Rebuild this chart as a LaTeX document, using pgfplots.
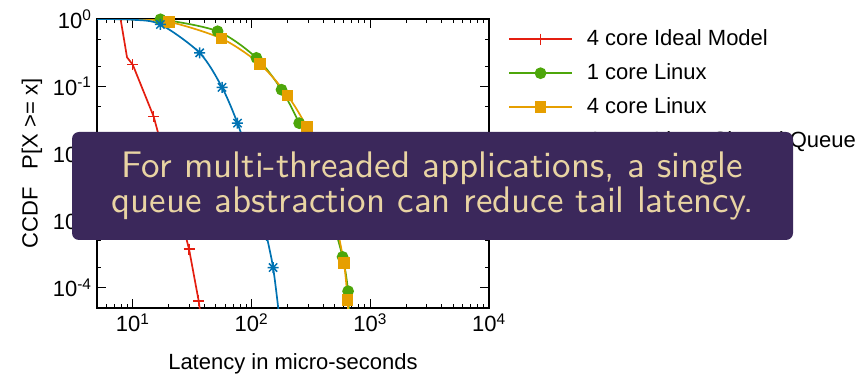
\documentclass[border=0pt]{standalone}
\usepackage{pgfplots}
\pgfplotsset{compat=1.18}
\usepackage{fontspec}
\newfontfamily\arialfont{Liberation Sans}
\newfontfamily\boxfont{lmsans10-regular}[Extension=.otf]

\definecolor{cred}{HTML}{E41E10}
\definecolor{cgreen}{HTML}{4DA60A}
\definecolor{corange}{HTML}{E69F00}
\definecolor{cblue}{HTML}{0072B2}
\definecolor{boxbg}{RGB}{59,40,91}
\definecolor{boxfg}{RGB}{233,212,163}

% eight-armed star: a plus overlaid with a cross
\pgfdeclareplotmark{pstar}{%
  \pgfpathmoveto{\pgfqpoint{-\pgfplotmarksize}{0pt}}%
  \pgfpathlineto{\pgfqpoint{\pgfplotmarksize}{0pt}}%
  \pgfpathmoveto{\pgfqpoint{0pt}{-\pgfplotmarksize}}%
  \pgfpathlineto{\pgfqpoint{0pt}{\pgfplotmarksize}}%
  \pgfpathmoveto{\pgfqpoint{-.75\pgfplotmarksize}{-.75\pgfplotmarksize}}%
  \pgfpathlineto{\pgfqpoint{.75\pgfplotmarksize}{.75\pgfplotmarksize}}%
  \pgfpathmoveto{\pgfqpoint{-.75\pgfplotmarksize}{.75\pgfplotmarksize}}%
  \pgfpathlineto{\pgfqpoint{.75\pgfplotmarksize}{-.75\pgfplotmarksize}}%
  \pgfusepathqstroke}

\newcommand\plotfont{\arialfont\fontsize{22bp}{26bp}\selectfont}

\begin{document}
\begin{tikzpicture}
\path[use as bounding box] (0,0) rectangle (862bp,375bp);
\begin{axis}[
  at={(97bp,67bp)}, anchor=south west,
  scale only axis, width=392bp, height=289bp,
  xmode=log, ymode=log,
  xmin=5, xmax=10000, ymin=5e-5, ymax=1,
  xtick={10,100,1000,10000},
  xticklabels={10\textsuperscript{1},10\textsuperscript{2},10\textsuperscript{3},10\textsuperscript{4}},
  ytick={1e-4,1e-3,1e-2,1e-1,1},
  yticklabels={10\textsuperscript{-4},10\textsuperscript{-3},10\textsuperscript{-2},10\textsuperscript{-1},10\textsuperscript{0}},
  minor xtick={6,7,8,9,20,30,40,50,60,70,80,90,200,300,400,500,600,700,800,900,2000,3000,4000,5000,6000,7000,8000,9000},
  minor ytick={2e-4,5e-4,2e-3,5e-3,2e-2,5e-2,0.2,0.5},
  tick align=inside,
  major tick length=9bp, minor tick length=4.5bp,
  every tick/.style={black, line width=0.9bp},
  axis line style={black, line width=1.4bp},
  tick label style={font=\plotfont},
  yticklabel style={xshift=-2bp},
  xticklabel style={yshift=-2bp},
  xlabel={Latency in micro-seconds},
  ylabel={CCDF \ \ P[X >= x]},
  every axis x label/.style={at={(axis description cs:0.5,0)}, anchor=base, yshift=-61bp, font=\plotfont},
  every axis y label/.style={at={(axis description cs:-0.1658,0.5)}, rotate=90, anchor=center, font=\plotfont},
  legend style={draw=none, fill=none, font=\plotfont, at={(1,1)}, anchor=north west,
    xshift=19bp, yshift=-8bp, row sep=10bp, inner sep=0pt,
    nodes={inner sep=2bp, text height=16bp, text depth=4bp},
    /tikz/every odd column/.append style={column sep=12bp}},
  legend cell align=left,
  legend image code/.code={\draw[#1, sharp plot, mark indices={2}] plot coordinates {(0bp,0bp) (31.5bp,0bp) (63bp,0bp)};},
  every axis plot/.append style={line width=1.7bp, mark options={solid, line width=1.5bp}},
]
% 4 core ideal model
\addplot[cred, mark=+, mark size=5.5bp, mark indices={3,4,5,6,7,8}] coordinates {
  (7.9,1) (8.95,0.269) (10,0.209) (15,0.0354) (20,5.4e-3) (25,1.24e-3)
  (29.8,3.76e-4) (35.9,6.4e-5) (37.2,4e-5)};
% 1 core Linux
\addplot[cgreen, smooth, tension=0.5, mark=*, mark size=5bp, mark options={fill=cgreen}, mark indices={3,4,5,6,7,8,9,10,11}] coordinates {
  (5,1) (10,0.999) (17.1,0.99) (51.8,0.657) (110,0.264) (179,0.0887)
  (252,0.0282) (330,9e-3) (430,2e-3) (585,2.88e-4) (651,8.9e-5) (662,4e-5)};
% 4 core Linux
\addplot[corange, smooth, tension=0.5, mark=square*, mark size=5bp, mark options={fill=corange}, mark indices={3,4,5,6,7,8,9,10,11}] coordinates {
  (5,1) (10,0.985) (20.1,0.91) (55.8,0.512) (117.5,0.214) (201,0.0729)
  (292,0.0245) (380,7.6e-3) (480,1.65e-3) (600,2.34e-4) (644,6.5e-5) (652,4e-5)};
% 4 core Linux, one shared queue
\addplot[cblue, smooth, tension=0.5, mark=pstar, mark size=5.5bp, mark indices={3,4,5,6,7,8,9,10}] coordinates {
  (5,0.999) (10,0.975) (17.1,0.83) (36.6,0.313) (56.5,0.096) (76.2,0.0282)
  (95,8.4e-3) (114.5,2.3e-3) (134,6e-4) (152,2.0e-4) (168,5e-5) (175,2.5e-5)};
\legend{4 core Ideal Model, 1 core Linux, 4 core Linux, 4 core Linux Shared Queue}
\end{axis}
\fill[boxbg, rounded corners=7bp] (72bp,135bp) rectangle (793bp,243bp);
\node[text=boxfg, align=center, inner sep=0pt, font=\boxfont\fontsize{37bp}{35.4bp}\selectfont]
  at (432.5bp,189bp) {For multi-threaded applications, a single\\queue abstraction can reduce tail latency.};
\end{tikzpicture}
\end{document}
